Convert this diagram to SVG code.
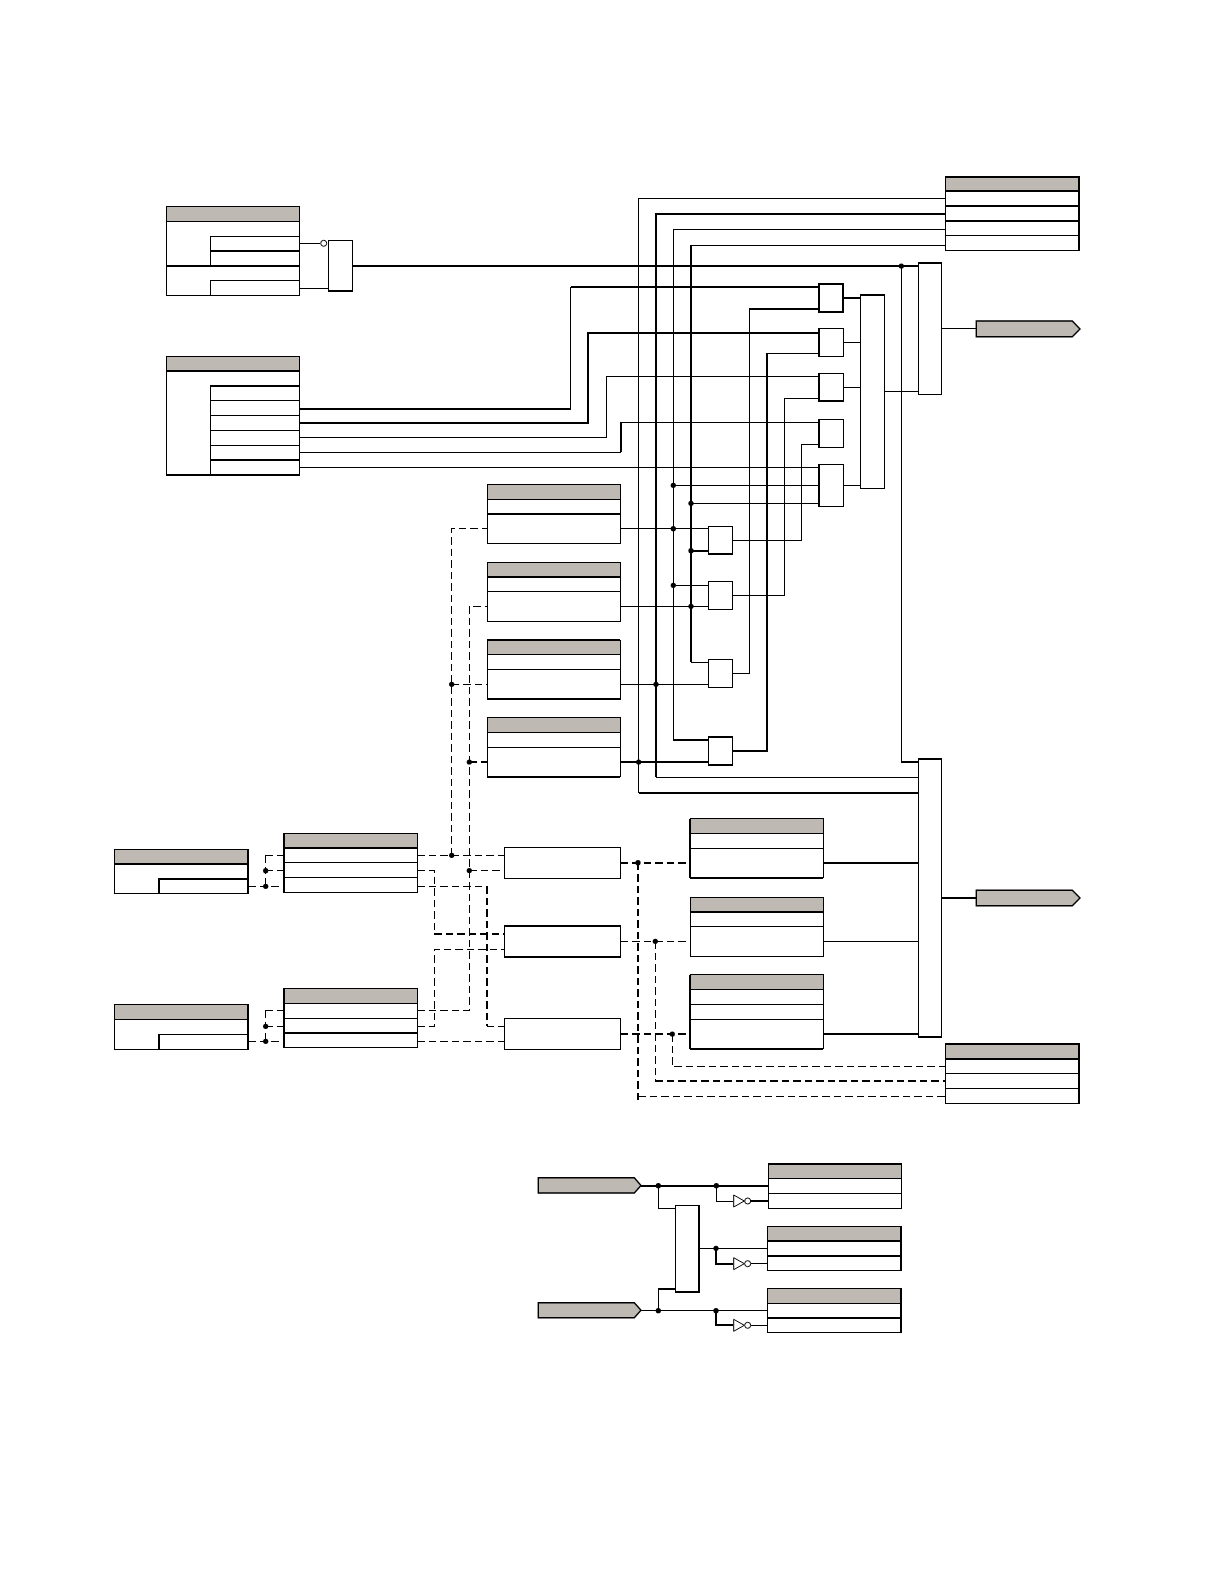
<svg xmlns="http://www.w3.org/2000/svg" width="1224" height="1584" viewBox="0 0 1224 1584">
<style>
path,rect,circle,polygon{stroke:#000;fill:none;stroke-width:1}
path,rect{shape-rendering:crispEdges}
.t{stroke-width:2}
.d{stroke-dasharray:7.5 4}
.dt{stroke-dasharray:7.5 4;stroke-width:2}
.b{fill:#fff}
.h{fill:#bfb9b3}
circle.k{fill:#000;stroke:none}
polygon.w,circle.w{fill:#fff}
</style>
<rect width="1224" height="1584" style="fill:#fff;stroke:none"/>
<g id="connectors">
<path d="M299.5 243.3H320M299.5 288.3H328.3M941.7 328.3H976M884.7 391.3H918.3M843.3 342.3H860.3M843.3 387.3H860.3M843.3 485.3H860.3"/>
<path d="M570.6 409V287"/>
<path d="M299.5 437.3H606V376.3H818.7M299.5 452.3H621M621 422.3H818.7M299.5 467.3H818.7"/>
<path d="M945.7 198.3H638.7V792.7M945.7 229.3H673.3V740M945.7 245.3H691M691 662.3H708.7"/>
<path d="M673.3 485.3H818.7M691 503.3H818.7M620.3 528.7H708.7M673.3 585.3H708.7M620.3 606.3H708.7M620.3 684.3H708.7"/>
<path d="M732.7 540.3H801.7V444.3H818.7M732.7 595.3H784.3V398.3H818.7M732.7 673.3H749.3V309M766.7 353.3H818.7M656 777.3H918.3M901.3 266V761.7"/>
<path d="M823.3 941.3H918.3"/>
<path d="M658.3 1185.7V1208.3H675.3M716.3 1185.7V1201H733.3M699.3 1248.3H767.3M641 1310.7H767.3M658.3 1288.7V1310.7M750.7 1263.7H767.3M750.7 1325.3H767.3"/>
<path class="t" d="M352.7 266H918.3M299.5 409H570.6M299.5 422.7H588V333H818.7M570.6 287H818.7M843.3 297.7H860.3M749.3 309H818.7M621 452.3V422.3M945.7 213.7H656V777.3M691 245.3V662.3M673.3 740H708.7M620.3 762H708.7M732.7 751H766.7V353.3M691 550.7H708.7M638.7 792.7H918.3M901.3 761.7H918.3M823.3 863H918.3M823.3 1034H918.3M941.7 897.7H976"/>
<path class="t" d="M641 1185.7H768.3M750.7 1201H768.3M658.3 1288.7H675.3M716 1248.3V1263.7H733.3M716 1310.7V1325.3H733.3"/>
<path class="d" d="M248 886.3H283.7M265.7 855.3V886.3M265.7 855.3H283.7M265.7 870.7H283.7M248 1041.3H283.7M265.7 1010.3V1041.3M265.7 1010.3H283.7M265.7 1026.3H283.7"/>
<path class="d" d="M417.3 855.5H504.3M451.7 855.3V528.7H487.3M451.7 684.3H487.3M417.3 870.7H434.3V933.7M417.3 886.3H486.7M486.7 1026.3H504.3M417.3 1010.3H469.3V606.3H487.3M469.3 870.3H504.3M417.3 1026.3H434.3V949.3H504.3M417.3 1041.3H504.3"/>
<path class="d" d="M620.7 941.3H690M655.3 941.3V1081M672.3 1034V1066.3H945.7M638 1096H945.7"/>
<path class="dt" d="M434.3 933.7H504.3M486.7 886.3V1026.3M469.3 762H487.3M620.7 862.7H690M638 862.7V1101M620.7 1034H690M655.3 1081H945.7"/>
</g>
<g id="junctions">
<circle class="k" cx="901.3" cy="266" r="2.6"/><circle class="k" cx="673.3" cy="485.3" r="2.6"/><circle class="k" cx="691" cy="503.3" r="2.6"/><circle class="k" cx="673.3" cy="528.7" r="2.6"/><circle class="k" cx="691" cy="550.7" r="2.6"/><circle class="k" cx="673.3" cy="585.3" r="2.6"/><circle class="k" cx="691" cy="606.3" r="2.6"/><circle class="k" cx="656" cy="684.3" r="2.6"/><circle class="k" cx="638.7" cy="762" r="2.6"/><circle class="k" cx="451.7" cy="684.3" r="2.6"/><circle class="k" cx="469.3" cy="762" r="2.6"/><circle class="k" cx="451.7" cy="855.3" r="2.6"/><circle class="k" cx="469.3" cy="870.5" r="2.6"/><circle class="k" cx="265.7" cy="870.7" r="2.6"/><circle class="k" cx="265.7" cy="886.3" r="2.6"/><circle class="k" cx="265.7" cy="1026.3" r="2.6"/><circle class="k" cx="265.7" cy="1041.3" r="2.6"/><circle class="k" cx="638" cy="862.7" r="2.6"/><circle class="k" cx="655.3" cy="941.3" r="2.6"/><circle class="k" cx="672.3" cy="1034" r="2.6"/><circle class="k" cx="658.3" cy="1185.7" r="2.6"/><circle class="k" cx="716.3" cy="1185.7" r="2.6"/><circle class="k" cx="716" cy="1248.3" r="2.6"/><circle class="k" cx="716" cy="1310.7" r="2.6"/><circle class="k" cx="658.3" cy="1310.7" r="2.6"/>
</g>
<g id="table-top-left"><rect class="b" x="166.5" y="206" width="133" height="89.3"/><rect class="h" x="166.5" y="206" width="133" height="15.3"/><path d="M210.3 266V236.3H299.5M210.3 295.3V280.3H299.5"/><path class="t" d="M210.3 251H299.5M166.5 266H299.5"/></g>
<g id="gate-top-left"><circle class="w" cx="323.7" cy="243.3" r="3"/><rect class="b" x="328.3" y="240.3" width="24.4" height="50.4"/><path class="t" d="M328.3 290.7H352.7"/></g>
<g id="table-left-2"><rect class="b" x="166.5" y="356.3" width="133" height="118.7"/><rect class="h" x="166.5" y="356.3" width="133" height="14.7"/><path d="M210.3 475V386M210.3 400.3H299.5M210.3 415.3H299.5M210.3 430.3H299.5M210.3 445.3H299.5"/><path class="t" d="M166.5 371H299.5M210.3 386H299.5M210.3 460H299.5M166.5 475H299.5"/></g>
<g id="table-top-right"><rect class="b" x="945.7" y="176.7" width="133.3" height="73.6"/><rect class="h" x="945.7" y="176.7" width="133.3" height="14"/><path d="M945.7 235.7H1079"/><path class="t" d="M945.7 190.7H1079M945.7 205.7H1079M945.7 221H1079M1079 176.7V250.3M945.7 176.7H1079"/></g>
<g id="gate-1"><rect class="b t" x="818.7" y="283.7" width="24.6" height="28"/></g>
<g id="gate-2"><rect class="b" x="818.7" y="328.3" width="24.6" height="28"/><path class="t" d="M818.7 328.3V356.3"/></g>
<g id="gate-3"><rect class="b" x="818.7" y="373.7" width="24.6" height="27.3"/><path class="t" d="M818.7 373.7V401H843.3"/></g>
<g id="gate-4"><rect class="b" x="818.7" y="419.7" width="24.6" height="27.6"/><path class="t" d="M818.7 419.7V447.3"/></g>
<g id="gate-5"><rect class="b" x="818.7" y="464.3" width="24.6" height="42"/><path class="t" d="M818.7 464.3V506.3"/></g>
<g id="or-1"><rect class="b" x="860.3" y="294.7" width="24.4" height="193.6"/><path class="t" d="M860.3 294.7H884.7"/></g>
<g id="or-2"><rect class="b" x="918.3" y="263" width="23.4" height="131.3"/><path class="t" d="M918.3 263H941.7"/></g>
<g id="tag-1"><polygon class="h" points="976.3,321 1072.3,321 1080,329 1072.3,336.7 976.3,336.7" style="stroke-width:1.4"/></g>
<g id="table-m1"><rect class="b" x="487.3" y="484.7" width="133" height="58.3"/><rect class="h" x="487.3" y="484.7" width="133" height="14.6"/><path class="t" d="M487.3 513.7H620.3"/></g>
<g id="table-m2"><rect class="b" x="487.3" y="562.7" width="133" height="58.6"/><rect class="h" x="487.3" y="562.7" width="133" height="14.3"/><path d="M487.3 591.3H620.3"/><path class="t" d="M487.3 577H620.3"/></g>
<g id="table-m3"><rect class="b" x="487.3" y="640" width="133" height="59"/><rect class="h" x="487.3" y="640" width="133" height="14.3"/><path d="M487.3 669.3H620.3"/><path class="t" d="M487.3 640H620.3M487.3 699H620.3"/></g>
<g id="table-m4"><rect class="b" x="487.3" y="717.7" width="133" height="59"/><rect class="h" x="487.3" y="717.7" width="133" height="14.6"/><path d="M487.3 747.3H620.3"/><path class="t" d="M487.3 776.7H620.3"/></g>
<g id="and-a"><rect class="b" x="708.7" y="526.7" width="24" height="27.3"/><path class="t" d="M708.7 554H732.7"/></g>
<g id="and-b"><rect class="b" x="708.7" y="581.7" width="24" height="27.6"/></g>
<g id="and-c"><rect class="b" x="708.7" y="659.3" width="24" height="28"/></g>
<g id="and-d"><rect class="b" x="708.7" y="736.7" width="24" height="28.3"/><path class="t" d="M708.7 736.7H732.7M708.7 765H732.7"/></g>
<g id="table-l1"><rect class="b" x="114.7" y="849.3" width="133.3" height="44"/><rect class="h" x="114.7" y="849.3" width="133.3" height="14.4"/><path class="t" d="M114.7 863.7H248M159 893.3V879H248M248 849.3V893.3"/></g>
<g id="table-l2"><rect class="b" x="114.7" y="1004.7" width="133.3" height="44.6"/><rect class="h" x="114.7" y="1004.7" width="133.3" height="14.6"/><path d="M159 1034.3H248"/><path class="t" d="M159 1034.3V1049.3M248 1004.7V1049.3"/></g>
<g id="table-c1"><rect class="b" x="283.7" y="833.7" width="133.6" height="58.3"/><rect class="h" x="283.7" y="833.7" width="133.6" height="14.3"/><path d="M283.7 862.7H417.3M283.7 877.3H417.3"/><path class="t" d="M283.7 848H417.3M283.7 833.7V892"/></g>
<g id="table-c2"><rect class="b" x="283.7" y="988.7" width="133.6" height="58.6"/><rect class="h" x="283.7" y="988.7" width="133.6" height="14.6"/><path d="M283.7 1018.3H417.3"/><path class="t" d="M283.7 1033H417.3M283.7 988.7V1047.3"/></g>
<g id="rect-1"><rect class="b" x="504.3" y="847.3" width="116.4" height="31"/></g>
<g id="rect-2"><rect class="b" x="504.3" y="926" width="116.4" height="31"/><path class="t" d="M504.3 926H620.7M504.3 957H620.7"/></g>
<g id="rect-3"><rect class="b" x="504.3" y="1018.3" width="116.4" height="31"/></g>
<g id="table-r1"><rect class="b" x="690" y="818.7" width="133.3" height="59"/><rect class="h" x="690" y="818.7" width="133.3" height="14.6"/><path d="M690 848.3H823.3"/><path class="t" d="M690 877.7H823.3M690 818.7V877.7"/></g>
<g id="table-r2"><rect class="b" x="690" y="897.7" width="133.3" height="58.6"/><rect class="h" x="690" y="897.7" width="133.3" height="14.3"/><path d="M690 926.3H823.3"/><path class="t" d="M690 912H823.3"/></g>
<g id="table-r3"><rect class="b" x="690" y="974.7" width="133.3" height="74"/><rect class="h" x="690" y="974.7" width="133.3" height="14.6"/><path d="M690 1004.3H823.3M690 1019.3H823.3"/><path class="t" d="M690 1048.7H823.3M690 974.7V1048.7"/></g>
<g id="or-3"><rect class="b" x="918.3" y="759" width="23.4" height="277.7"/><path class="t" d="M918.3 759H941.7M918.3 1036.7H941.7"/></g>
<g id="tag-2"><polygon class="h" points="976.3,890.3 1072.3,890.3 1080,898 1072.3,905.7 976.3,905.7" style="stroke-width:1.4"/></g>
<g id="table-br"><rect class="b" x="945.7" y="1043.7" width="133.3" height="59.3"/><rect class="h" x="945.7" y="1043.7" width="133.3" height="15"/><path d="M945.7 1073.3H1079M945.7 1088.3H1079"/><path class="t" d="M945.7 1043.7H1079M945.7 1058.7H1079M1079 1043.7V1103"/></g>
<g id="tag-3"><polygon class="h" points="538.3,1177.7 634.3,1177.7 641,1185.5 634.3,1193 538.3,1193" style="stroke-width:1.4"/></g>
<g id="tag-4"><polygon class="h" points="538.3,1302.7 634.3,1302.7 641,1310.2 634.3,1317.7 538.3,1317.7" style="stroke-width:1.4"/></g>
<g id="gate-bottom"><rect class="b" x="675.3" y="1205.3" width="24" height="86.7"/><path class="t" d="M699.3 1205.3V1292H675.3"/></g>
<g id="inv-a"><polygon class="w" points="733.7,1195 744.3,1201 733.7,1207"/><circle class="w" cx="747.7" cy="1201" r="3"/></g>
<g id="inv-b"><polygon class="w" points="733.7,1257.7 744.3,1263.7 733.7,1269.7"/><circle class="w" cx="747.7" cy="1263.7" r="3"/></g>
<g id="inv-c"><polygon class="w" points="733.7,1319.3 744.3,1325.3 733.7,1331.3"/><circle class="w" cx="747.7" cy="1325.3" r="3"/></g>
<g id="table-ba"><rect class="b" x="768.3" y="1163.7" width="133" height="44.6"/><rect class="h" x="768.3" y="1163.7" width="133" height="14.6"/><path d="M768.3 1193.3H901.3"/><path class="t" d="M768.3 1163.7H901.3"/></g>
<g id="table-bb"><rect class="b" x="767.3" y="1226.7" width="133.7" height="43.6"/><rect class="h" x="767.3" y="1226.7" width="133.7" height="14.3"/><path class="t" d="M767.3 1241H901M767.3 1255.7H901M901 1226.7V1270.3"/></g>
<g id="table-bc"><rect class="b" x="767.3" y="1288.7" width="133.7" height="43.8"/><rect class="h" x="767.3" y="1288.7" width="133.7" height="14.6"/><path class="t" d="M767.3 1318H901M901 1288.7V1332.5"/></g>
</svg>
